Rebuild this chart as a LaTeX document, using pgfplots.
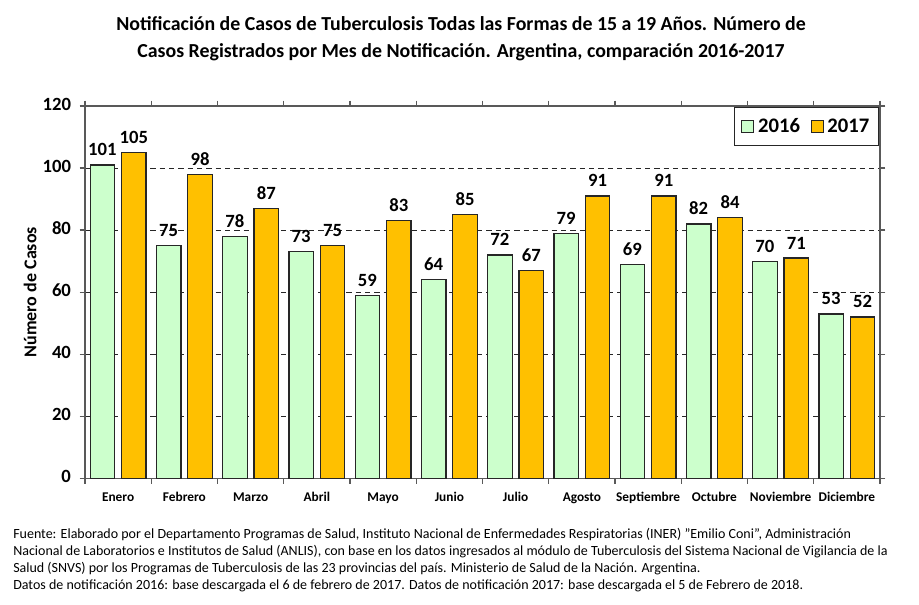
\documentclass[border=0pt]{standalone}
\usepackage{pgfplots}
\pgfplotsset{compat=1.18}
\usepackage{fontspec}
\setmainfont{Carlito}
\definecolor{verde}{HTML}{CCFFCC}
\definecolor{naranja}{HTML}{FFC000}
\definecolor{ejes}{HTML}{595959}
\definecolor{borde}{HTML}{262626}

\pgfplotstableread{
x  y
0  101
1  75
2  78
3  73
4  59
5  64
6  72
7  79
8  69
9  82
10 70
11 53
}\datosA
\pgfplotstableread{
x  y
0  105
1  98
2  87
3  75
4  83
5  85
6  67
7  91
8  91
9  84
10 71
11 52
}\datosB

\begin{document}
\begin{tikzpicture}[x=0.75pt,y=0.75pt]
\path[use as bounding box] (0,0) rectangle (919,-605);

\node[font=\fontsize{14.9}{16}\selectfont\bfseries] at (461,-24)
  {Notificación de Casos de Tuberculosis Todas las Formas de 15 a 19 Años. Número de};
\node[font=\fontsize{14.9}{16}\selectfont\bfseries] at (461,-52)
  {Casos Registrados por Mes de Notificación. Argentina, comparación 2016-2017};

\begin{axis}[
  at={(63.75pt,-358.875pt)}, anchor=south west,
  scale only axis,
  width=596.25pt, height=279.4pt,
  xmin=-0.5, xmax=11.5,
  ymin=0, ymax=120,
  ytick={0,20,...,120},
  xtick={0,...,11},
  xticklabels={Enero,Febrero,Marzo,Abril,Mayo,Junio,Julio,Agosto,Septiembre,Octubre,Noviembre,Diciembre},
  minor xtick={-0.5,0.5,...,11.5},
  major x tick style={draw=none},
  tick align=outside,
  major tick length=4pt, minor tick length=4pt,
  tick style={ejes, line width=1pt},
  axis line style={ejes, line width=1.2pt},
  ymajorgrids,
  grid style={borde, dash pattern=on 4pt off 3pt, line width=0.8pt},
  typeset ticklabels with strut,
  xticklabel style={font=\fontsize{10}{12}\selectfont\bfseries, yshift=-1.5pt},
  yticklabel style={font=\fontsize{14}{16}\selectfont\bfseries, xshift=-3pt},
  /pgf/number format/assume math mode=true,
  ylabel={Número de Casos},
  ylabel style={font=\fontsize{13.5}{15}\selectfont\bfseries, at={(axis description cs:-0.069,0.5)}, anchor=center},
  ybar, bar width=0.37,
  nodes near coords,
  every node near coord/.append style={font=\fontsize{14}{16}\selectfont\bfseries, yshift=3pt},
  legend columns=2,
  legend style={at={(rel axis cs:0.999,0.997)}, anchor=north east, draw=borde, line width=0.8pt,
    font=\fontsize{15.5}{17}\selectfont\bfseries, inner xsep=5pt, inner ysep=6pt,
    /tikz/every even column/.append style={column sep=6pt},
    /tikz/every odd column/.append style={column sep=1pt}},
  legend image code/.code={\draw[#1, line width=0.6pt] (0pt,-4.5pt) rectangle (9pt,4.5pt);},
  clip=false,
]
\addplot[fill=verde, draw=borde, line width=0.9pt, bar shift=-0.237] table {\datosA};
\addplot[fill=naranja, draw=borde, line width=0.9pt, bar shift=0.237] table {\datosB};
\legend{2016,2017}
\end{axis}

\begin{scope}[every node/.style={anchor=west, font=\fontsize{10.5}{12}\selectfont, inner sep=0pt}]
\node at (13,-535) {Fuente: Elaborado por el Departamento Programas de Salud, Instituto Nacional de Enfermedades Respiratorias (INER) "Emilio Coni", Administración};
\node at (13,-552) {Nacional de Laboratorios e Institutos de Salud (ANLIS), con base en los datos ingresados al módulo de Tuberculosis del Sistema Nacional de Vigilancia de la};
\node at (13,-569) {Salud (SNVS) por los Programas de Tuberculosis de las 23 provincias del país. Ministerio de Salud de la Nación. Argentina.};
\node at (13,-586) {Datos de notificación 2016: base descargada el 6 de febrero de 2017. Datos de notificación 2017: base descargada el 5 de Febrero de 2018.};
\end{scope}
\end{tikzpicture}
\end{document}
